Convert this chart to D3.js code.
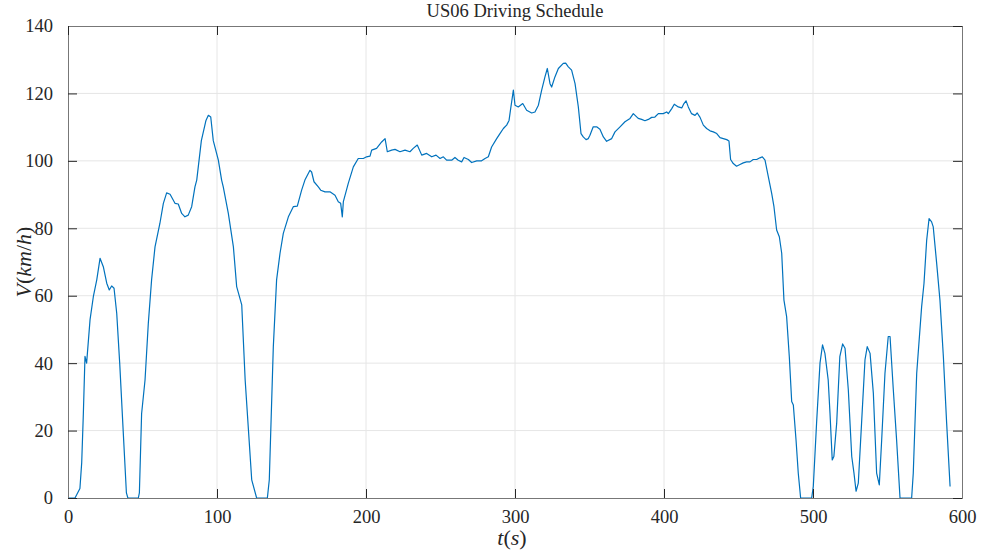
<!DOCTYPE html>
<html>
<head>
<meta charset="utf-8">
<script src="https://cdn.jsdelivr.net/npm/d3@7"></script>
<style>
  body { margin: 0; background: #fff; }
  svg text { font-family: "Liberation Serif", "Times New Roman", serif; fill: #262626; }
</style>
</head>
<body>
<div id="chart-area"></div>
<script>

// US06 speed trace
var time = [0,4.7,8,9.2,10.3,11.4,12.5,14.8,17,19.3,21.5,23.7,26,27.7,29.3,30.9,32.7,34.7,37,39.2,40.2,47.2,47.9,49.4,51.7,53.9,56.1,58.4,61.7,64,66.2,68.5,71.8,74,76.3,78.5,80.7,83,85.2,86.4,89.5,92.6,94.2,95.8,97.5,100.9,103.1,104.2,107.6,111,113.2,116.6,118.9,121.1,123.3,126.6,133.8,135.1,137.8,140,142.3,144.5,147.9,151.2,153.9,156.8,159,162.4,163.5,165.1,168,169.6,172.5,175.8,179.2,181.4,183,184.1,184.8,188.1,191.5,194.8,198.2,200.4,202.7,203.8,207.1,210.5,212.8,214.3,217.2,219.5,222.8,226.2,229.5,231.7,234.4,237.4,240.7,244.1,247,249.7,251.9,254.1,257.5,259.7,261.9,264.2,265.8,268.7,270.9,274.3,277.6,279.9,282.1,284.3,287.7,289.9,292.2,294.4,296,297.1,298.9,300,302.2,305.2,307.8,311.2,313.4,315.7,317.9,320.1,321.7,323.5,324.6,326.8,329.1,332.4,334,335.8,338,340.3,342.5,344.3,345.8,347.7,349.2,350.3,352.5,354.8,357,359.3,361.5,364.9,367.1,370.5,373.8,377.2,379.4,382.7,385,387.2,389.5,391.7,393.9,396.2,399.5,401.8,402.9,405.2,406.9,409.6,411.9,413.4,414.8,416.3,418.5,420.8,422.3,424.2,426.4,428.6,430.9,433.1,435.4,437.6,439.8,442.1,443.6,444.7,446.5,448.7,451,453.2,455.4,457.7,459.9,462.2,464.4,466,467.8,470,472.3,473.8,475.6,477.4,479,480.5,482.3,484.1,485.7,486.8,488.6,490.1,491.7,499.1,500.2,502.4,504.7,506.4,508,510.2,511.4,512.9,514,515.9,518,519.9,521.5,523.7,526,527.5,528.9,530.4,532.6,534.9,536.4,538.3,540.5,542.7,544.5,546.1,548.3,550.5,551.7,553.9,556.1,558.4,566.2,567.3,569.6,572.9,574.5,576.3,577.9,579.6,580.7,583,585.2,587.5,589.7,592];
var speed = [0,0,2.8,10.5,25,42,40,52.9,59.7,64.7,71.1,68.6,63.7,61.7,62.9,62.2,54.8,40,20.2,1.5,0,0,1.5,25,35,51.8,64.7,74.5,81.5,87.4,90.5,90.1,87.4,87.2,84.4,83.4,83.9,86.4,92.3,94.3,106,112,113.5,113,106,100.2,94.3,92.3,84.4,74.5,62.7,57.3,35,20.2,5.4,0,0,5.4,44.9,64.7,72.6,78.5,83.4,86.4,86.6,91.3,94.3,97.2,96.7,93.8,92.3,91.3,90.8,90.8,89.8,87.9,87.4,83.4,87.9,93.3,98.2,100.7,100.7,101.2,101.4,103.2,103.7,105.6,106.6,102.7,103.2,103.4,102.7,103.2,102.7,103.7,104.7,101.7,102.2,101.2,101.7,100.7,101.2,100.2,100.2,101,100.2,99.7,101,100.4,99.5,100,100,100.7,101.2,104.1,106.6,108.1,109.6,110.6,112,115.5,121,116.5,116,117,115,114.2,114.5,116.5,121,124.9,127.4,122.9,121.9,124.9,127.4,128.9,129,127.9,126.9,122.9,116,108.1,107.1,106.3,106.6,107.6,110.1,110.1,109.4,107.1,105.8,106.6,108.6,110.1,111.6,112.6,114,112.6,112.3,111.9,112.3,112.9,113,114,114,114.5,114,115.5,116.8,116,115.7,117,117.8,116,114,113.5,114.2,112.9,110.6,109.6,108.9,108.6,108.1,106.9,106.6,106.3,105.9,100.4,99.2,98.4,98.9,99.4,99.7,99.7,100.4,100.4,100.9,101.2,100.2,95.3,90.3,86.4,79.5,77.5,72.6,58.7,53.8,41.9,28.6,27.6,17.3,7.4,0,0,3.4,22.2,40,45.4,42.9,35,25.2,11.3,12.3,22.2,41.9,45.7,44.4,32.1,12.3,7.4,2,4.4,22.2,41,44.9,42.9,31.1,7.4,3.9,17.3,37,47.9,47.9,32.1,17.3,0,0,7.4,37,56.7,63.7,76.5,82.9,81.9,80.4,69.6,58.7,41.9,22.2,3.4];

var xTicks = [0,100,200,300,400,500,600];
var yTicks = [0,20,40,60,80,100,120,140];
var title = "US06 Driving Schedule";

var margin = {top: 26, right: 19, bottom: 54, left: 68},
    width = 981 - margin.left - margin.right,
    height = 552 - margin.top - margin.bottom;

var svg = d3.select("#chart-area")
    .append("svg")
        .attr("width", 981)
        .attr("height", 552);

var g = svg.append("g")
        .attr("transform", "translate(" + margin.left + "," + margin.top + ")");

var xScale = d3.scaleLinear().domain([0, 600]).range([0, width]);
var yScale = d3.scaleLinear().domain([0, 140]).range([height, 0]);

// grid
g.append("g").selectAll("line")
    .data(xTicks.slice(1, -1))
    .enter().append("line")
        .attr("x1", function(d){ return xScale(d); })
        .attr("x2", function(d){ return xScale(d); })
        .attr("y1", 0).attr("y2", height)
        .attr("stroke", "#e6e6e6");
g.append("g").selectAll("line")
    .data(yTicks.slice(1, -1))
    .enter().append("line")
        .attr("y1", function(d){ return yScale(d); })
        .attr("y2", function(d){ return yScale(d); })
        .attr("x1", 0).attr("x2", width)
        .attr("stroke", "#e6e6e6");

// the speed line
var line = d3.line()
    .x(function(d, i){ return xScale(time[i]); })
    .y(function(d){ return yScale(d); });

g.append("path")
    .datum(speed)
    .attr("fill", "none")
    .attr("stroke", "#0072BD")
    .attr("stroke-width", 1.2)
    .attr("stroke-linejoin", "round")
    .attr("d", line);

// axes, MATLAB style: ticks inside, box all round
var tick = 9;
var xAxis = d3.axisBottom(xScale).tickValues(xTicks).tickSize(-tick).tickPadding(12);
var yAxis = d3.axisLeft(yScale).tickValues(yTicks).tickSize(-tick).tickPadding(15);
var xTop = d3.axisTop(xScale).tickValues(xTicks).tickSize(-tick).tickFormat("");
var yRight = d3.axisRight(yScale).tickValues(yTicks).tickSize(-tick).tickFormat("");

function styleAxis(sel){
    sel.selectAll("path").attr("stroke", "#262626");
    sel.selectAll("line").attr("stroke", "#262626");
    sel.selectAll("text").attr("font-size", 18.5).attr("fill", "#262626")
        .style("font-family", '"Liberation Serif", "Times New Roman", serif');
}

g.append("g").attr("transform", "translate(0," + height + ")").call(xAxis).call(styleAxis);
g.append("g").call(yAxis).call(styleAxis);
g.append("g").call(xTop).call(styleAxis);
g.append("g").attr("transform", "translate(" + width + ",0)").call(yRight).call(styleAxis);
g.selectAll(".domain").attr("stroke", "#777");

// title and labels
svg.append("text")
    .attr("x", 515)
    .attr("y", 17)
    .attr("text-anchor", "middle")
    .attr("font-size", 18.5)
    .text(title);

var xl = svg.append("text")
    .attr("x", 512)
    .attr("y", 545)
    .attr("text-anchor", "middle")
    .attr("font-size", 22);
xl.append("tspan").attr("font-style", "italic").text("t");
xl.append("tspan").text("(");
xl.append("tspan").attr("font-style", "italic").text("s");
xl.append("tspan").text(")");

var yl = svg.append("text")
    .attr("transform", "translate(31,262) rotate(-90)")
    .attr("text-anchor", "middle")
    .attr("font-size", 22);
yl.append("tspan").attr("font-style", "italic").text("V");
yl.append("tspan").text("(");
yl.append("tspan").attr("font-style", "italic").text("km");
yl.append("tspan").text("/");
yl.append("tspan").attr("font-style", "italic").text("h");
yl.append("tspan").text(")");

</script>
</body>
</html>
